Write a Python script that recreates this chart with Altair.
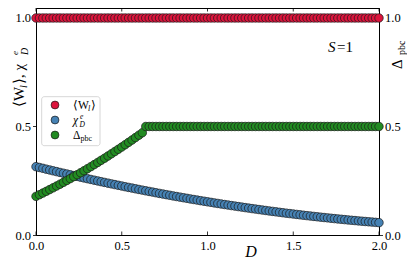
import altair as alt
import pandas as pd

# ---------------- data ----------------
D = [0.00, 0.02, 0.04, 0.06, 0.08, 0.10, 0.12, 0.14, 0.16, 0.18,
     0.20, 0.22, 0.24, 0.26, 0.28, 0.30, 0.32, 0.34, 0.36, 0.38,
     0.40, 0.42, 0.44, 0.46, 0.48, 0.50, 0.52, 0.54, 0.56, 0.58,
     0.60, 0.62, 0.64, 0.66, 0.68, 0.70, 0.72, 0.74, 0.76, 0.78,
     0.80, 0.82, 0.84, 0.86, 0.88, 0.90, 0.92, 0.94, 0.96, 0.98,
     1.00, 1.02, 1.04, 1.06, 1.08, 1.10, 1.12, 1.14, 1.16, 1.18,
     1.20, 1.22, 1.24, 1.26, 1.28, 1.30, 1.32, 1.34, 1.36, 1.38,
     1.40, 1.42, 1.44, 1.46, 1.48, 1.50, 1.52, 1.54, 1.56, 1.58,
     1.60, 1.62, 1.64, 1.66, 1.68, 1.70, 1.72, 1.74, 1.76, 1.78,
     1.80, 1.82, 1.84, 1.86, 1.88, 1.90, 1.92, 1.94, 1.96, 1.98,
     2.00]

W_l = [1.0, 1.0, 1.0, 1.0, 1.0, 1.0, 1.0, 1.0, 1.0, 1.0,
       1.0, 1.0, 1.0, 1.0, 1.0, 1.0, 1.0, 1.0, 1.0, 1.0,
       1.0, 1.0, 1.0, 1.0, 1.0, 1.0, 1.0, 1.0, 1.0, 1.0,
       1.0, 1.0, 1.0, 1.0, 1.0, 1.0, 1.0, 1.0, 1.0, 1.0,
       1.0, 1.0, 1.0, 1.0, 1.0, 1.0, 1.0, 1.0, 1.0, 1.0,
       1.0, 1.0, 1.0, 1.0, 1.0, 1.0, 1.0, 1.0, 1.0, 1.0,
       1.0, 1.0, 1.0, 1.0, 1.0, 1.0, 1.0, 1.0, 1.0, 1.0,
       1.0, 1.0, 1.0, 1.0, 1.0, 1.0, 1.0, 1.0, 1.0, 1.0,
       1.0, 1.0, 1.0, 1.0, 1.0, 1.0, 1.0, 1.0, 1.0, 1.0,
       1.0, 1.0, 1.0, 1.0, 1.0, 1.0, 1.0, 1.0, 1.0, 1.0,
       1.0]

chi_De = [0.3150, 0.3111, 0.3073, 0.3034, 0.2996, 0.2958, 0.2921, 0.2883, 0.2846, 0.2810,
          0.2773, 0.2737, 0.2701, 0.2665, 0.2630, 0.2595, 0.2560, 0.2525, 0.2491, 0.2457,
          0.2423, 0.2389, 0.2356, 0.2323, 0.2290, 0.2258, 0.2225, 0.2193, 0.2162, 0.2130,
          0.2099, 0.2068, 0.2037, 0.2007, 0.1977, 0.1947, 0.1917, 0.1888, 0.1859, 0.1830,
          0.1801, 0.1773, 0.1745, 0.1717, 0.1690, 0.1662, 0.1635, 0.1609, 0.1582, 0.1556,
          0.1530, 0.1504, 0.1479, 0.1454, 0.1429, 0.1404, 0.1380, 0.1356, 0.1332, 0.1309,
          0.1285, 0.1262, 0.1239, 0.1217, 0.1195, 0.1173, 0.1151, 0.1130, 0.1108, 0.1088,
          0.1067, 0.1046, 0.1026, 0.1006, 0.0987, 0.0968, 0.0948, 0.0930, 0.0911, 0.0893,
          0.0875, 0.0857, 0.0840, 0.0822, 0.0805, 0.0789, 0.0772, 0.0756, 0.0740, 0.0725,
          0.0709, 0.0694, 0.0679, 0.0665, 0.0650, 0.0636, 0.0623, 0.0609, 0.0596, 0.0583,
          0.0570]

delta_pbc = [0.1780, 0.1857, 0.1934, 0.2013, 0.2094, 0.2175, 0.2258, 0.2341, 0.2426, 0.2513,
             0.2600, 0.2689, 0.2778, 0.2869, 0.2962, 0.3055, 0.3150, 0.3245, 0.3342, 0.3441,
             0.3540, 0.3641, 0.3742, 0.3845, 0.3950, 0.4055, 0.4162, 0.4269, 0.4378, 0.4489,
             0.4600, 0.4713, 0.5, 0.5, 0.5, 0.5, 0.5, 0.5, 0.5, 0.5,
             0.5, 0.5, 0.5, 0.5, 0.5, 0.5, 0.5, 0.5, 0.5, 0.5,
             0.5, 0.5, 0.5, 0.5, 0.5, 0.5, 0.5, 0.5, 0.5, 0.5,
             0.5, 0.5, 0.5, 0.5, 0.5, 0.5, 0.5, 0.5, 0.5, 0.5,
             0.5, 0.5, 0.5, 0.5, 0.5, 0.5, 0.5, 0.5, 0.5, 0.5,
             0.5, 0.5, 0.5, 0.5, 0.5, 0.5, 0.5, 0.5, 0.5, 0.5,
             0.5, 0.5, 0.5, 0.5, 0.5, 0.5, 0.5, 0.5, 0.5, 0.5,
             0.5]

series_names = ["W_l", "chi_De", "delta_pbc"]
series_colors = ["#dc143c", "#4682b4", "#228b22"]
x_ticks = [0.0, 0.5, 1.0, 1.5, 2.0]
y_ticks = [0.0, 0.5, 1.0]

# ---------------- layout ----------------
PW, PH = 343, 227
FONT = "Liberation Serif"

df = pd.concat([
    pd.DataFrame({"D": D, "value": W_l, "series": series_names[0]}),
    pd.DataFrame({"D": D, "value": chi_De, "series": series_names[1]}),
    pd.DataFrame({"D": D, "value": delta_pbc, "series": series_names[2]}),
], ignore_index=True)
df_green = df[df["series"] == series_names[2]]
xt_df = pd.DataFrame({"t": x_ticks})

xs = alt.Scale(domain=[0, 2], nice=False, zero=False)
ys = alt.Scale(domain=[0, 1.046], nice=False, zero=False)

x_axis = alt.Axis(values=x_ticks, format=".1f", ticks=False, labelPadding=4,
                  title=None, grid=False, labelFlush=False, labelOverlap=False)

points = alt.Chart(df).mark_circle(size=72, opacity=1, stroke="#1a1a1a", strokeWidth=0.7).encode(
    x=alt.X("D:Q", scale=xs, axis=x_axis),
    y=alt.Y("value:Q", scale=ys,
            axis=alt.Axis(orient="left", values=y_ticks, format=".1f", tickSize=3.5,
                          labelPadding=2, title=None, grid=False, labelOverlap=False,
                          labelFlush=False)),
    color=alt.Color("series:N", scale=alt.Scale(domain=series_names, range=series_colors),
                    legend=None),
)

right_axis = alt.Chart(df_green).mark_circle(opacity=0).encode(
    x=alt.X("D:Q", scale=xs, axis=x_axis),
    y=alt.Y("value:Q", scale=ys,
            axis=alt.Axis(orient="right", values=y_ticks, format=".1f", tickSize=3.5,
                          labelPadding=2, title=None, grid=False, labelOverlap=False,
                          labelFlush=False)),
)

bottom_ticks = alt.Chart(xt_df).mark_rule(color="black", strokeWidth=0.8).encode(
    x=alt.X("t:Q", scale=xs, axis=x_axis), y=alt.value(PH), y2=alt.value(PH - 3.5))
top_ticks = alt.Chart(xt_df).mark_rule(color="black", strokeWidth=0.8).encode(
    x=alt.X("t:Q", scale=xs, axis=x_axis), y=alt.value(0), y2=alt.value(3.5))


def txt(s, x, y, size, angle=0, italic=False, align="left"):
    return alt.Chart(alt.Data(values=[{}])).mark_text(
        text=s, font=FONT, fontSize=size, fontStyle="italic" if italic else "normal",
        angle=angle, align=align, baseline="alphabetic", color="black"
    ).encode(x=alt.value(x), y=alt.value(y))


def dot(x, y, color):
    return alt.Chart(alt.Data(values=[{}])).mark_circle(
        size=62, opacity=1, color=color, stroke="#1a1a1a", strokeWidth=0.7
    ).encode(x=alt.value(x), y=alt.value(y))


legend_box = alt.Chart(alt.Data(values=[{}])).mark_rect(
    fill="white", stroke="#cccccc", strokeWidth=0.8, cornerRadius=2.5
).encode(x=alt.value(5.7), x2=alt.value(64), y=alt.value(88.7), y2=alt.value(137.7))

LX = 37
legend = [
    legend_box,
    dot(19, 97, series_colors[0]),
    dot(19, 112, series_colors[1]),
    dot(19, 127, series_colors[2]),
    txt("⟨W", LX, 101, 11.5),
    txt("l", LX + 15, 103, 8, italic=True),
    txt("⟩", LX + 17.5, 101, 11.5),
    txt("χ", LX, 116, 11.5, italic=True),
    txt("D", LX + 6.5, 118.5, 7.5, italic=True),
    txt("e", LX + 7, 110.5, 7.5, italic=True),
    txt("Δ", LX, 131, 11.5),
    txt("pbc", LX + 7.5, 133, 8),
]

titles = [
    # left y title  ⟨W_l⟩, χ_D^e
    txt("⟨W", -12, 99, 15, angle=270),
    txt("l", -9, 80, 10, angle=270, italic=True),
    txt("⟩, χ", -12, 76, 15, angle=270),
    txt("D", -8.5, 47, 10, angle=270, italic=True),
    txt("e", -18, 47, 9, angle=270, italic=True),
    # right y title  Δ_pbc
    txt("Δ", 366, 61, 15, angle=270),
    txt("pbc", 369, 47, 10, angle=270),
    # x title
    txt("D", 215, 249, 16, italic=True, align="center"),
    # S=1 annotation
    txt("S", 292, 44, 15, italic=True),
    txt("=1", 301, 44, 15),
]

chart = alt.layer(
    points, right_axis, bottom_ticks, top_ticks, *legend, *titles
).resolve_scale(y="independent").properties(
    width=PW, height=PH,
    autosize=alt.AutoSizeParams(type="none"),
    padding={"left": 28, "top": 0, "right": 28, "bottom": 25},
    background="white",
).configure_view(
    stroke="black", strokeWidth=1
).configure_axis(
    domainColor="black", tickColor="black", labelColor="black",
    labelFont=FONT, labelFontSize=12.5, domainWidth=1, tickWidth=0.8,
)

chart.save("out.html", embed_options={"renderer": "svg", "actions": False})
